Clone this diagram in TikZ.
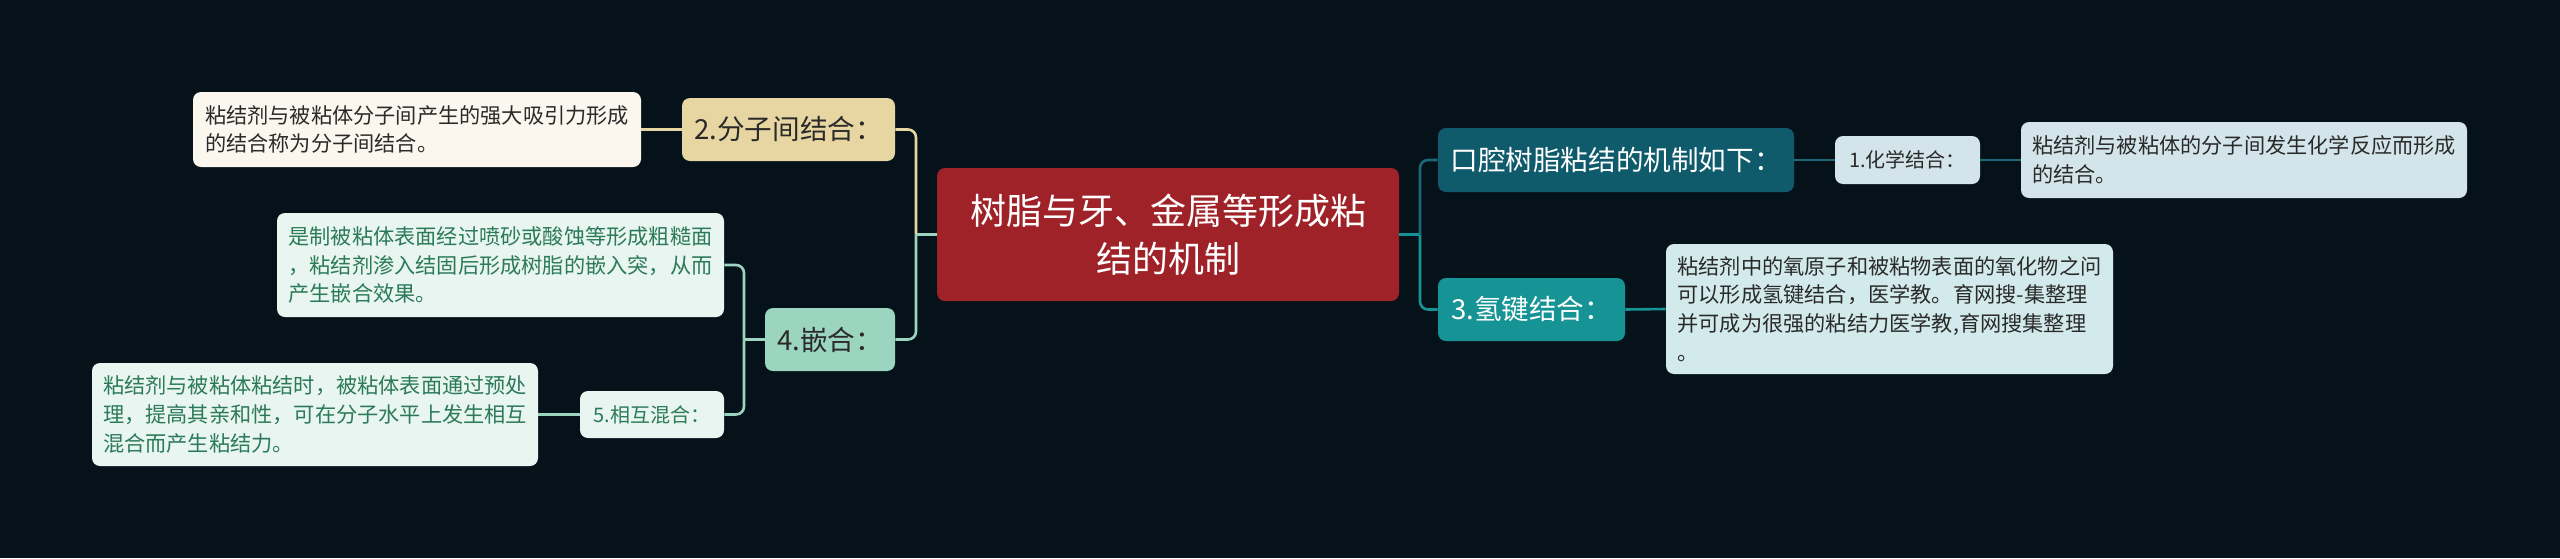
\documentclass[tikz,border=0pt]{standalone}
\usepackage{fontspec}
\newfontfamily\cjk{Noto Sans CJK SC}
\definecolor{bgc}{HTML}{051219}
\definecolor{hubc}{HTML}{9E2228}
\definecolor{tanc}{HTML}{E8D6A2}
\definecolor{creamc}{HTML}{FBF7EE}
\definecolor{mintc}{HTML}{9BD4BF}
\definecolor{mintlt}{HTML}{E8F5F0}
\definecolor{greentxt}{HTML}{2C7A5A}
\definecolor{dteal}{HTML}{0F5B6C}
\definecolor{dteall}{HTML}{1A6878}
\definecolor{tealc}{HTML}{169495}
\definecolor{bluelt}{HTML}{D3E5EA}
\definecolor{bluelt2}{HTML}{D3EAEC}
\definecolor{darktxt}{HTML}{2A2A2A}
\begin{document}
\begin{tikzpicture}[x=0.5pt,y=-0.5pt,
  box/.style={rounded corners=4pt, inner sep=0pt, align=center},
  hubfont/.style={font=\cjk\fontsize{18pt}{24pt}\selectfont},
  midfont/.style={font=\cjk\fontsize{13.8pt}{16pt}\selectfont},
  smallfont/.style={font=\cjk\fontsize{10pt}{12pt}\selectfont},
  leaffont/.style={font=\cjk\fontsize{10.6pt}{14.4pt}\selectfont, align=left},
  conn/.style={line width=1.3pt, rounded corners=4pt},
  tanline/.style={conn, draw=tanc},
  mintline/.style={conn, draw=mintc},
  dtline/.style={conn, draw=dteall},
  tline/.style={conn, draw=tealc}
]
\fill[bgc] (0,0) rectangle (2560,558);
\useasboundingbox (0,0) rectangle (2560,558);

% nodes
\node[box, hubfont, fill=hubc, text=white, minimum width=231pt, minimum height=66.5pt] (c) at (1168,234.5) {树脂与牙、金属等形成粘\\结的机制};

\node[box, midfont, fill=tanc, text=darktxt, minimum width=106.5pt, minimum height=31.5pt] (n2) at (788.5,129.5) {2.分子间结合：};
\node[box, leaffont, fill=creamc, text=darktxt, minimum width=224pt, minimum height=37.5pt] (l1) at (417,129.5) {粘结剂与被粘体分子间产生的强大吸引力形成\\的结合称为分子间结合。};

\node[box, midfont, fill=mintc, text=darktxt, minimum width=65pt, minimum height=31.5pt] (n4) at (830,339.5) {4.嵌合：};
\node[box, leaffont, fill=mintlt, text=greentxt, minimum width=223.5pt, minimum height=52pt] (l2) at (500.5,265) {是制被粘体表面经过喷砂或酸蚀等形成粗糙面\\，粘结剂渗入结固后形成树脂的嵌入突，从而\\产生嵌合效果。};
\node[box, smallfont, fill=mintlt, text=greentxt, minimum width=72pt, minimum height=23.5pt] (n5) at (652,414.5) {5.相互混合：};
\node[box, leaffont, fill=mintlt, text=greentxt, minimum width=223pt, minimum height=51.5pt] (l3) at (315,414.5) {粘结剂与被粘体粘结时，被粘体表面通过预处\\理，提高其亲和性，可在分子水平上发生相互\\混合而产生粘结力。};

\node[box, midfont, fill=dteal, text=white, minimum width=178pt, minimum height=32pt] (nk) at (1616,160) {口腔树脂粘结的机制如下：};
\node[box, smallfont, fill=bluelt, text=darktxt, minimum width=72.5pt, minimum height=24pt] (n1) at (1907.5,160) {1.化学结合：};
\node[box, leaffont, fill=bluelt, text=darktxt, minimum width=223pt, minimum height=38pt] (lc) at (2244,160) {粘结剂与被粘体的分子间发生化学反应而形成\\的结合。};

\node[box, midfont, fill=tealc, text=white, minimum width=93.5pt, minimum height=31.5pt] (n3) at (1531.5,309.5) {3.氢键结合：};
\node[box, leaffont, fill=bluelt2, text=darktxt, minimum width=223.5pt, minimum height=65pt] (lh) at (1889.5,309) {粘结剂中的氧原子和被粘物表面的氧化物之问\\可以形成氢键结合，医学教。育网搜-集整理\\并可成为很强的粘结力医学教,育网搜集整理\\。};

% junctions
\coordinate (jL) at (916,234.5);
\coordinate (jR) at (1420,234.5);
\coordinate (j4) at (744,339.5);

% connectors
\draw[mintline] (c.west) -- (jL);
\draw[tanline] (jL) |- (n2.east);
\draw[mintline] (jL) |- (n4.east);
\draw[tanline] (n2.west) -- (l1.east);
\draw[mintline] (n4.west) -- (j4);
\draw[mintline] (j4) |- (l2.east);
\draw[mintline] (j4) |- (n5.east);
\draw[mintline] (n5.west) -- (l3.east);

\draw[tline] (c.east) -- (jR);
\draw[dtline] (jR) |- (nk.west);
\draw[tline] (jR) |- (n3.west);
\draw[dtline] (nk.east) -- (n1.west);
\draw[dtline] (n1.east) -- (lc.west);
\draw[tline] (n3.east) -- (lh.west);
\end{tikzpicture}
\end{document}
